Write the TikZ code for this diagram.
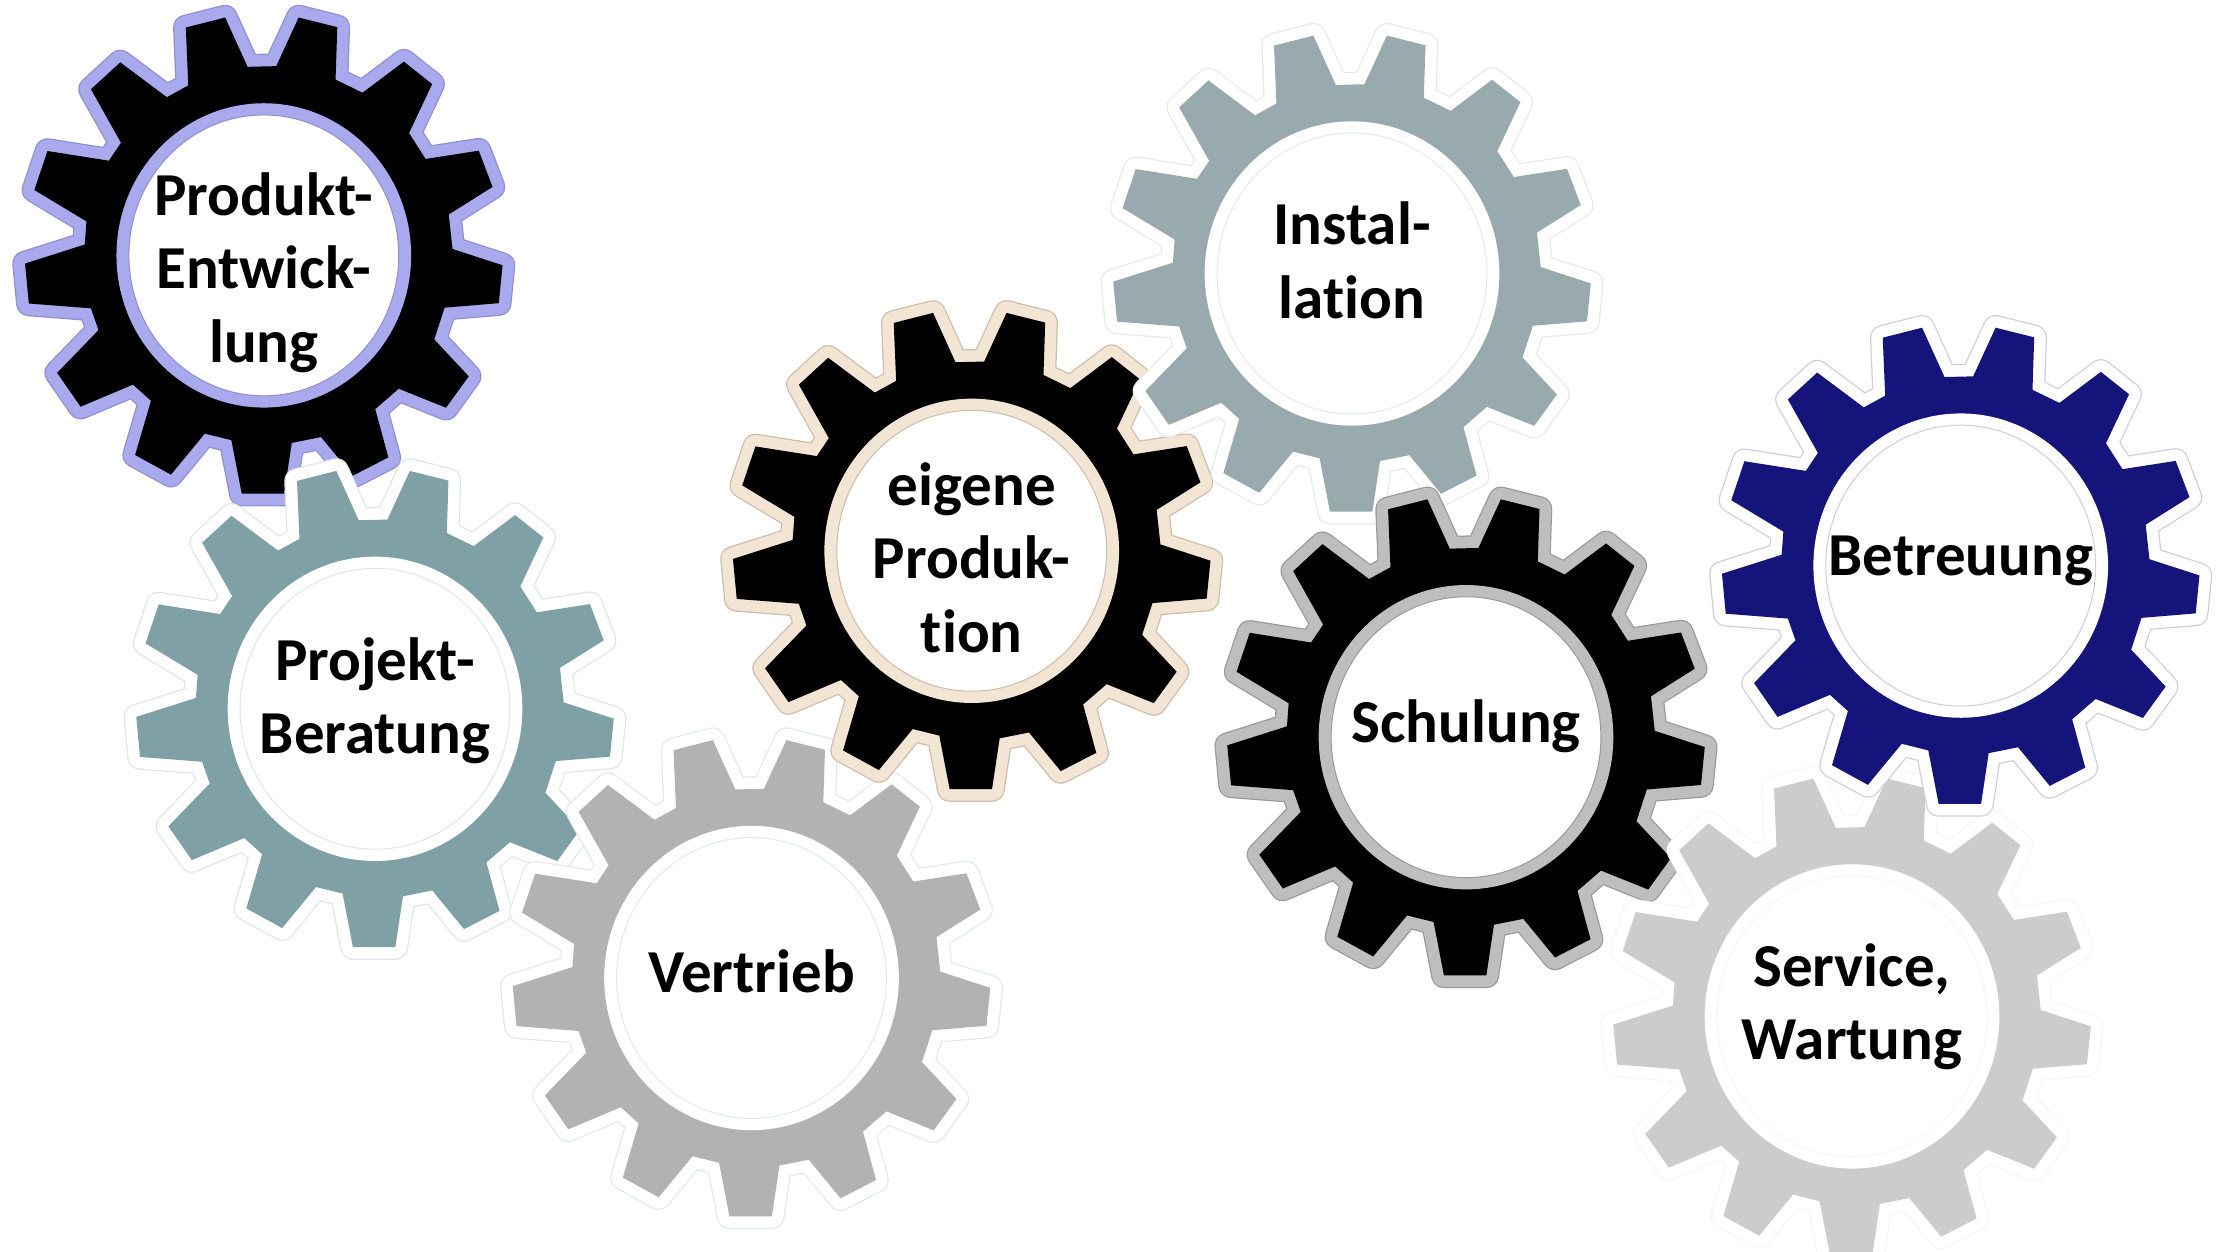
\documentclass[tikz,border=0pt]{standalone}
\usepackage{fontspec}
\setmainfont{Carlito}[BoldFont={Carlito Bold},Ligatures=CommonOff]
\definecolor{cProdukt}{HTML}{A9A9EE}\definecolor{eProdukt}{HTML}{8E8ED0}
\definecolor{cProjekt}{HTML}{7FA1A5}\definecolor{eProjekt}{HTML}{DDE6E6}
\definecolor{cVertrieb}{HTML}{B2B2B2}\definecolor{eVertrieb}{HTML}{E4E8E8}
\definecolor{cEigene}{HTML}{F3E5D3}\definecolor{eEigene}{HTML}{CDBDA8}
\definecolor{cInstall}{HTML}{98AAAD}\definecolor{eInstall}{HTML}{E4EAEA}
\definecolor{cSchulung}{HTML}{BEBEBE}\definecolor{eSchulung}{HTML}{999999}
\definecolor{cNavy}{HTML}{14147A}\definecolor{eNavy}{HTML}{CCCCE6}
\definecolor{cService}{HTML}{CCCCCC}\definecolor{eService}{HTML}{F6F6F6}
\tikzset{
  gearlabel/.style={align=center,font=\fontsize{17.35pt}{20.9pt}\selectfont\bfseries,text=black,inner sep=0pt},
}
\def\gearpoly{(563,126) -- (677,97) -- (742,240) -- (825,238) -- (890,97) -- (1002,125) -- (997,277) -- (1075,315) -- (1195,225) -- (1277,290) -- (1210,432) -- (1258,507) -- (1412,483) -- (1452,588) -- (1325,668) -- (1336,768) -- (1481,815) -- (1470,925) -- (1313,938) -- (1283,1030) -- (1383,1137) -- (1317,1228) -- (1180,1173) -- (1112,1232) -- (1150,1372) -- (1047,1425) -- (955,1313) -- (870,1330) -- (848,1477) -- (725,1477) -- (695,1322) -- (618,1303) -- (520,1422) -- (416,1365) -- (462,1208) -- (410,1161) -- (258,1225) -- (190,1127) -- (310,1003) -- (288,940) -- (108,926) -- (97,810) -- (270,755) -- (275,688) -- (124,597) -- (162,484) -- (340,512) -- (375,460) -- (288,305) -- (373,227) -- (508,328) -- (570,294) -- cycle}
% #1 cx, #2 cy, #3 body colour, #4 rim colour, #5 rim edge colour, #6 name, #7 text, #8 text shift
\newcommand\gearwheel[8]{%
  \begin{scope}[shift={(#1,#2)}]
    \begin{scope}[x=0.003444cm,y=-0.003444cm,shift={(-789,-786.5)},line join=round]
      \draw[line width=2.55mm,color=#5] \gearpoly;
      \draw[line width=2.3mm,color=#4] \gearpoly;
      \fill[#3] \gearpoly;
    \end{scope}
    \begin{scope}[x=0.003444cm,y=-0.003444cm]
      \fill[#4] (0,0) ellipse [x radius=427,y radius=441];
      \draw[#5,line width=0.1mm,fill=white] (0,0) ellipse [x radius=391,y radius=407];
    \end{scope}
    \node[gearlabel] (#6) at (0,#8) {#7};
  \end{scope}}
\begin{document}
\begin{tikzpicture}[x=0.01cm,y=-0.01cm]
\useasboundingbox (0,0) rectangle (2216,1252);
\clip (0,0) rectangle (2216,1252);
\fill[white] (0,0) rectangle (2216,1252);
\gearwheel{263.8}{255.4}{black}{cProdukt}{eProdukt}{produkt}{Produkt-\\Entwick-\\lung}{17}
\gearwheel{375}{708.8}{cProjekt}{white}{eProjekt}{projekt}{Projekt-\\Beratung}{-8}
\gearwheel{751.5}{978}{cVertrieb}{white}{eVertrieb}{vertrieb}{Vertrieb}{-6.5}
\gearwheel{971.7}{550.8}{black}{cEigene}{eEigene}{eigene}{eigene\\Produk-\\tion}{7}
\gearwheel{1352}{273.5}{cInstall}{white}{eInstall}{install}{Instal-\\lation}{-13}
\gearwheel{1466}{737.2}{black}{cSchulung}{eSchulung}{schulung}{Schulung}{-11.3}
\gearwheel{1852}{1016.4}{cService}{white}{eService}{service}{Service,\\Wartung}{-9.5}
\gearwheel{1960.7}{565.6}{cNavy}{white}{eNavy}{betreuung}{Betreuung}{-4.5}
\end{tikzpicture}
\end{document}
